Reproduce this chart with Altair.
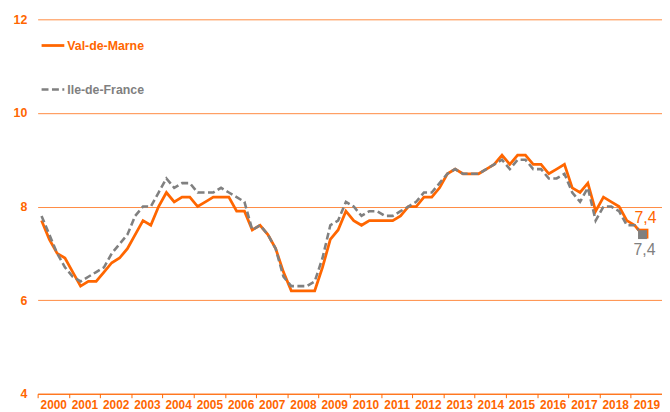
import altair as alt
import pandas as pd

years = list(range(2000, 2020))
series_names = ["Val-de-Marne", "Ile-de-France"]
colors = ["#FF6600", "#808080"]

# quarterly values, 2000 T1 .. 2019 T2
val_de_marne = [
    7.7, 7.3, 7.0, 6.9, 6.6, 6.3, 6.4, 6.4, 6.6, 6.8, 6.9, 7.1, 7.4, 7.7, 7.6, 8.0,
    8.3, 8.1, 8.2, 8.2, 8.0, 8.1, 8.2, 8.2, 8.2, 7.9, 7.9, 7.5, 7.6, 7.4, 7.1, 6.6,
    6.2, 6.2, 6.2, 6.2, 6.7, 7.3, 7.5, 7.9, 7.7, 7.6, 7.7, 7.7, 7.7, 7.7, 7.8, 8.0,
    8.0, 8.2, 8.2, 8.4, 8.7, 8.8, 8.7, 8.7, 8.7, 8.8, 8.9, 9.1, 8.9, 9.1, 9.1, 8.9,
    8.9, 8.7, 8.8, 8.9, 8.4, 8.3, 8.5, 7.9, 8.2, 8.1, 8.0, 7.7, 7.6, 7.4,
]
ile_de_france = [
    7.8, 7.4, 7.0, 6.7, 6.5, 6.4, 6.5, 6.6, 6.7, 7.0, 7.2, 7.4, 7.8, 8.0, 8.0, 8.3,
    8.6, 8.4, 8.5, 8.5, 8.3, 8.3, 8.3, 8.4, 8.3, 8.2, 8.1, 7.5, 7.6, 7.4, 7.1, 6.5,
    6.3, 6.3, 6.3, 6.4, 6.9, 7.6, 7.7, 8.1, 8.0, 7.8, 7.9, 7.9, 7.8, 7.8, 7.9, 8.0,
    8.1, 8.3, 8.3, 8.5, 8.7, 8.8, 8.7, 8.7, 8.7, 8.8, 8.9, 9.0, 8.8, 9.0, 9.0, 8.8,
    8.8, 8.6, 8.6, 8.7, 8.3, 8.1, 8.4, 7.7, 8.0, 8.0, 7.9, 7.6, 7.6, 7.4,
]
y_ticks = [4, 6, 8, 10, 12]

n = len(val_de_marne)
df = pd.DataFrame({
    "q": [i + 0.5 for i in range(n)],
    "vdm": val_de_marne,
    "idf": ile_de_france,
})
last = df.iloc[[-1]].copy()
last["vdm_lab"] = last["vdm"].map(lambda v: f"{v:.1f}".replace(".", ","))
last["idf_lab"] = last["idf"].map(lambda v: f"{v:.1f}".replace(".", ","))

ORANGE, GREY = colors
FONT = "Liberation Sans"

xscale = alt.Scale(domain=[0, 4 * len(years)], nice=False, zero=False)
yscale = alt.Scale(domain=[y_ticks[0], y_ticks[-1]], nice=False, zero=False)

xaxis = alt.Axis(
    title=None, values=[4 * k for k in range(len(years))],
    labelExpr=f"'' + ({years[0]} + datum.value / 4)",
    grid=False, domainColor=ORANGE, domainWidth=1, tickColor=ORANGE, tickSize=4,
    labelPadding=2, labelOffset=15.8, labelColor=ORANGE, labelFont=FONT,
    labelFontWeight="bold", labelFontSize=12, labelOverlap=False,
    labelFlush=False, labelBound=False,
)
yaxis = alt.Axis(
    title=None, values=y_ticks, grid=True, gridColor="#FF8A40", gridWidth=1,
    domain=False, ticks=False, labelPadding=11, labelColor=ORANGE, labelFont=FONT,
    labelFontWeight="bold", labelFontSize=12.5,
)

X = alt.X("q:Q", scale=xscale, axis=xaxis)


def Y(field):
    return alt.Y(field, scale=yscale, axis=yaxis)


base = alt.Chart(df)
line_vdm = base.mark_line(color=ORANGE, strokeWidth=2.8).encode(x=X, y=Y("vdm:Q"))
line_idf = base.mark_line(color=GREY, strokeWidth=2.6, strokeDash=[7, 3.5]).encode(
    x=X, y=Y("idf:Q"))

lb = alt.Chart(last)
sq_vdm = lb.mark_square(color=ORANGE, size=100, opacity=1, xOffset=1, yOffset=-1).encode(
    x=X, y=Y("vdm:Q"))
sq_idf = lb.mark_square(color=GREY, size=81, opacity=1).encode(x=X, y=Y("idf:Q"))
lab_vdm = lb.mark_text(color=ORANGE, font=FONT, fontSize=16, dy=-17, dx=3).encode(
    x=X, y=Y("vdm:Q"), text="vdm_lab:N")
lab_idf = lb.mark_text(color=GREY, font=FONT, fontSize=16, dy=16, dx=2).encode(
    x=X, y=Y("idf:Q"), text="idf_lab:N")

leg_df = pd.DataFrame({"s": series_names})
leg_a = alt.Chart(leg_df.iloc[[0]])
leg_b = alt.Chart(leg_df.iloc[[1]])
leg_line_a = leg_a.mark_rule(color=ORANGE, strokeWidth=2.8).encode(
    x=alt.value(4), x2=alt.value(27), y=alt.value(26.5))
leg_text_a = leg_a.mark_text(color=ORANGE, font=FONT, fontWeight="bold", fontSize=12.5,
                             align="left", baseline="middle").encode(
    x=alt.value(30), y=alt.value(27), text="s:N")
leg_line_b = leg_b.mark_rule(color=GREY, strokeWidth=2.6, strokeDash=[7, 3.5]).encode(
    x=alt.value(4), x2=alt.value(27), y=alt.value(71))
leg_text_b = leg_b.mark_text(color=GREY, font=FONT, fontWeight="bold", fontSize=12.5,
                             align="left", baseline="middle").encode(
    x=alt.value(30), y=alt.value(71.5), text="s:N")

chart = alt.layer(
    line_vdm, line_idf, sq_vdm, sq_idf, lab_vdm, lab_idf,
    leg_line_a, leg_text_a, leg_line_b, leg_text_b,
).properties(
    width=632, height=379,
    autosize=alt.AutoSizeParams(type="none"),
    padding={"left": 30, "top": 9, "right": 0, "bottom": 16},
).configure(background="white").configure_view(stroke=None)

chart.save("out.html", embed_options={"renderer": "svg", "actions": False})
